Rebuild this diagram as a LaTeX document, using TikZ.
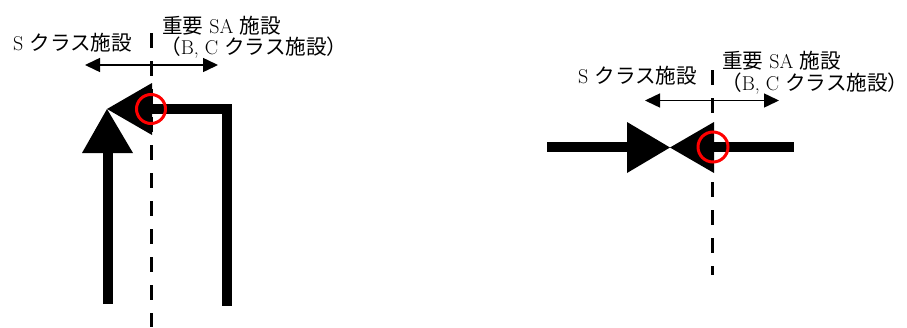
\documentclass[tikz,border=0pt]{standalone}
\usepackage{fontspec}
\newfontfamily\jp{Noto Sans CJK JP}[Scale=1.03]
\usetikzlibrary{arrows.meta}
\begin{document}
\begin{tikzpicture}[x=1pt,y=-1pt,
  pipe/.style={line width=10pt, line join=miter},
  valvetri/.style={fill=black, draw=none},
  boundary/.style={line width=3.5pt, dash pattern=on 15pt off 13pt},
  span/.style={line width=1.5pt, {Triangle[length=15pt,width=14pt]}-{Triangle[length=15pt,width=14pt]}},
  redring/.style={draw=red, line width=3pt},
  lbl/.style={anchor=base west, inner sep=0pt, text height=14pt, text depth=2pt,
    font=\fontsize{20pt}{22pt}\selectfont}]
\useasboundingbox (0,0) rectangle (907,327);

% ---------- left diagram ----------
\coordinate (Ltop) at (151.5,33);
\coordinate (Lbot) at (151.5,327);
\draw[boundary] (Ltop) -- (Lbot);
\coordinate (LaL) at (85,65);
\coordinate (LaR) at (218,65);
\draw[span] (LaL) -- (LaR);
\node[lbl] (Ls) at (13,50.5) {S {\jp クラス施設}};
\node[lbl] (Lsa) at (162,33) {{\jp 重要} SA {\jp 施設}};
\node[lbl] (Lbc) at (160,54.5) {{\jp （}B, C {\jp クラス施設）}\kern-9pt};
% angle valve
\coordinate (Lapex) at (107,109);
\fill[valvetri] (152,83) -- (152,135) -- (Lapex) -- cycle;
\fill[valvetri] (Lapex) -- (82,153) -- (133,153) -- cycle;
% pipes
\coordinate (Lin0) at (108,153);
\coordinate (Lin1) at (108,304);
\draw[pipe] (Lin1) -- (Lin0);
\coordinate (Lout0) at (152,109);
\coordinate (Lout1) at (227,109);
\coordinate (Lout2) at (227,306);
\draw[pipe] (Lout0) -- (Lout1) -- (Lout2);
\draw[redring] (151,109) circle (14.5);

% ---------- right diagram ----------
\coordinate (Rtop) at (712.7,70);
\coordinate (Rbot) at (712.7,275);
\draw[boundary] (Rtop) -- (Rbot);
\coordinate (RaL) at (645,100.5);
\coordinate (RaR) at (779,100.5);
\draw[span] (RaL) -- (RaR);
\node[lbl] (Rs) at (578,83.5) {S {\jp クラス施設}};
\node[lbl] (Rsa) at (722,68.5) {{\jp 重要} SA {\jp 施設}};
\node[lbl] (Rbc) at (721,90) {{\jp （}B, C {\jp クラス施設）}\kern-9pt};
% gate valve
\coordinate (Rapex) at (670,147.5);
\fill[valvetri] (627,122) -- (627,173) -- (Rapex) -- cycle;
\fill[valvetri] (714,122) -- (714,173) -- (Rapex) -- cycle;
\coordinate (Rp0) at (547,147);
\coordinate (Rp1) at (627,147);
\coordinate (Rp2) at (714,147);
\coordinate (Rp3) at (794,147);
\draw[pipe] (Rp0) -- (Rp1);
\draw[pipe] (Rp2) -- (Rp3);
\draw[redring] (713,147) circle (15);
\end{tikzpicture}
\end{document}
